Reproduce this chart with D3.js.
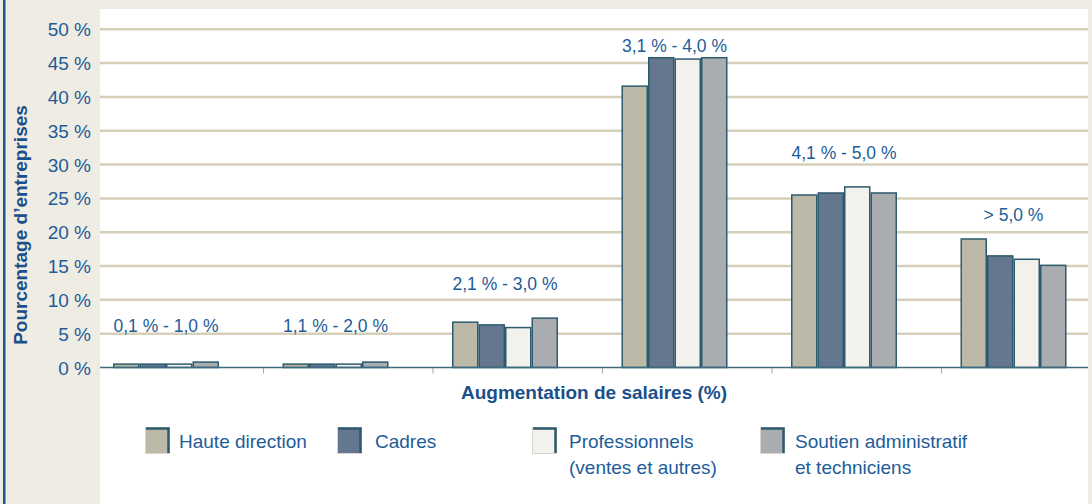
<!DOCTYPE html>
<html>
<head>
<meta charset="utf-8">
<script src="https://cdn.jsdelivr.net/npm/d3@7"></script>
<style>
  body { margin: 0; background: #fff; }
  svg { display: block; font-family: "Liberation Sans", Arial, sans-serif; }
</style>
</head>
<body>
<svg id="chart" width="1092" height="504"></svg>
<script>
const categories = ['0,1 % - 1,0 %', '1,1 % - 2,0 %', '2,1 % - 3,0 %', '3,1 % - 4,0 %', '4,1 % - 5,0 %', '> 5,0 %'];
const series = ['Haute direction', 'Cadres', 'Professionnels (ventes et autres)', 'Soutien administratif et techniciens'];
const hauteDirection = [0.5, 0.5, 6.7, 41.6, 25.5, 19.0];
const cadres = [0.5, 0.5, 6.3, 45.8, 25.8, 16.5];
const professionnels = [0.5, 0.5, 5.9, 45.6, 26.7, 16.0];
const soutien = [0.8, 0.8, 7.3, 45.8, 25.8, 15.1];
const yTicks = [0, 5, 10, 15, 20, 25, 30, 35, 40, 45, 50];

const values = [hauteDirection, cadres, professionnels, soutien];
const colors = ['#bcb9a9', '#64778f', '#f2f1ec', '#a9adb0'];
const legendLines = [['Haute direction'], ['Cadres'], ['Professionnels', '(ventes et autres)'], ['Soutien administratif', 'et techniciens']];
// level (in %) where each group label sits, as in the original layout
const labelAt = [6.1, 6.1, 12.3, 47.6, 31.7, 22.5];

const blue = '#1d5c99';
const svg = d3.select('#chart');
const W = 1092, H = 504;

// background frame
svg.append('rect').attr('width', W).attr('height', H).attr('fill', '#efece4');
svg.append('rect').attr('x', 100).attr('y', 9).attr('width', 988).attr('height', H - 9).attr('fill', '#fff');
svg.append('rect').attr('x', 3).attr('y', 0).attr('width', 2.5).attr('height', H).attr('fill', '#1b5a94');

const y = d3.scaleLinear().domain([0, 50]).range([367.5, 29.3]);
const x = d3.scaleBand().domain(categories).range([93.5, 1110.5]);
const xs = d3.scaleBand().domain(series).range([19.5, 125.5]);

// grid
svg.append('g').selectAll('line').data(yTicks.filter(d => d > 0)).enter()
  .append('line')
  .attr('x1', 100).attr('x2', 1088)
  .attr('y1', d => y(d)).attr('y2', d => y(d))
  .attr('stroke', '#d6d0ba').attr('stroke-width', 2.5);

// y tick labels
svg.append('g').selectAll('text').data(yTicks).enter()
  .append('text')
  .attr('x', 91).attr('y', d => y(d) + 7)
  .attr('text-anchor', 'end')
  .attr('fill', blue)
  .style('font-size', '19px')
  .text(d => d + ' %');

// x ticks at group boundaries
svg.append('g').selectAll('line').data(categories.slice(1)).enter()
  .append('line')
  .attr('x1', d => x(d) + 0.5).attr('x2', d => x(d) + 0.5)
  .attr('y1', y(0)).attr('y2', y(0) + 6)
  .attr('stroke', '#a9a9a0').attr('stroke-width', 1);

// bars
const groups = svg.append('g').selectAll('g').data(categories).enter()
  .append('g').attr('transform', d => `translate(${x(d)},0)`);

groups.selectAll('rect').data((c, i) => series.map((s, j) => ({ s, j, v: values[j][i] }))).enter()
  .append('rect')
  .attr('x', d => xs(d.s) + 0.75)
  .attr('width', xs.bandwidth() - 1.5)
  .attr('y', d => y(d.v))
  .attr('height', d => y(0) - y(d.v))
  .attr('fill', d => colors[d.j])
  .attr('stroke', '#2c5a6e')
  .attr('stroke-width', 1.5);

// baseline
svg.append('line').attr('x1', 100).attr('x2', 1088)
  .attr('y1', y(0)).attr('y2', y(0))
  .attr('stroke', '#3d6a7e').attr('stroke-width', 1.5);

// group labels
groups.append('text')
  .attr('x', (xs(series[0]) + xs(series[3]) + xs.bandwidth()) / 2)
  .attr('y', (d, i) => y(labelAt[i]) + 6)
  .attr('text-anchor', 'middle')
  .attr('fill', blue)
  .style('font-size', '17.5px')
  .text(d => d);

// axis titles
svg.append('text')
  .attr('x', 594).attr('y', 399)
  .attr('text-anchor', 'middle')
  .attr('fill', '#1a4f8a')
  .style('font-size', '19px').style('font-weight', 'bold')
  .text('Augmentation de salaires (%)');

svg.append('text')
  .attr('transform', 'translate(27,225) rotate(-90)')
  .attr('text-anchor', 'middle')
  .attr('fill', '#1a4f8a')
  .style('font-size', '19px').style('font-weight', 'bold')
  .text('Pourcentage d\u2019entreprises');

// legend
const legendX = [145, 337, 532, 760];
const legend = svg.append('g').selectAll('g').data(series).enter()
  .append('g').attr('transform', (d, i) => `translate(${legendX[i]},427)`);

legend.append('rect')
  .attr('x', 0.5).attr('y', 0.5).attr('width', 24).attr('height', 26)
  .attr('fill', (d, i) => colors[i])
  .attr('stroke', '#d9d6cc').attr('stroke-width', 1);
legend.append('path')
  .attr('d', 'M1,1.5 H23.5 V26')
  .attr('fill', 'none')
  .attr('stroke', '#2c5a6e').attr('stroke-width', 2.5);

legend.append('text')
  .attr('x', (d, i) => (i === 0 ? 34 : i === 1 ? 38 : i === 2 ? 37 : 35))
  .attr('y', 21)
  .attr('fill', blue)
  .style('font-size', '19px')
  .selectAll('tspan').data((d, i) => legendLines[i]).enter()
  .append('tspan')
  .attr('x', function() { return this.parentNode.getAttribute('x'); })
  .attr('dy', (d, k) => (k === 0 ? 0 : 26))
  .text(d => d);
</script>
</body>
</html>
